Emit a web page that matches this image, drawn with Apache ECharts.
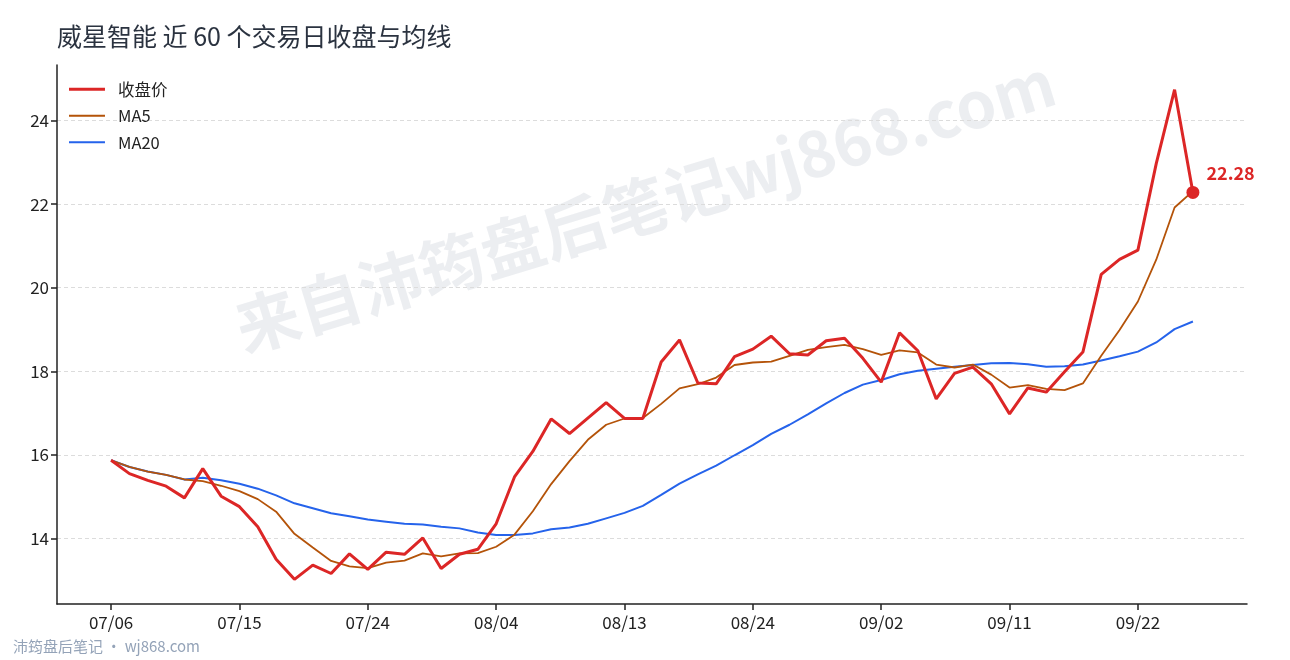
<!DOCTYPE html>
<html>
<head>
<meta charset="utf-8">
<script src="https://cdn.jsdelivr.net/npm/echarts@6/dist/echarts.min.js"></script>
<style>
  html, body { margin: 0; padding: 0; background: #fff; }
  #chart { width: 1290px; height: 660px; }
</style>
</head>
<body>
<div id="chart"></div>
<script>
// ---------- data ----------
const dates = [
  '07/06','07/07','07/08','07/09','07/10','07/13','07/14','07/15','07/16','07/17',
  '07/20','07/21','07/22','07/23','07/24','07/27','07/28','07/29','07/30','07/31',
  '08/03','08/04','08/05','08/06','08/07','08/10','08/11','08/12','08/13','08/14',
  '08/17','08/18','08/19','08/20','08/21','08/24','08/25','08/26','08/27','08/28',
  '08/31','09/01','09/02','09/03','09/04','09/07','09/08','09/09','09/10','09/11',
  '09/14','09/15','09/16','09/17','09/18','09/21','09/22','09/23','09/24','09/25'
];
const close = [
  15.87,15.55,15.39,15.25,14.97,15.67,15.01,14.76,14.28,13.50,
  13.02,13.36,13.16,13.63,13.26,13.67,13.62,14.01,13.28,13.62,
  13.74,14.35,15.47,16.08,16.86,16.51,16.88,17.25,16.87,16.87,
  18.22,18.75,17.72,17.70,18.35,18.53,18.84,18.42,18.39,18.73,
  18.79,18.31,17.74,18.92,18.49,17.34,17.95,18.10,17.70,16.98,
  17.60,17.50,17.99,18.46,20.32,20.68,20.90,22.97,24.74,22.28
];
const ma5 = [
  15.87,15.71,15.60,15.52,15.41,15.37,15.26,15.13,14.94,14.64,
  14.11,13.78,13.46,13.33,13.29,13.42,13.47,13.64,13.57,13.64,
  13.65,13.80,14.09,14.65,15.30,15.85,16.36,16.72,16.87,16.88,
  17.22,17.59,17.69,17.85,18.15,18.21,18.23,18.37,18.51,18.58,
  18.63,18.53,18.39,18.50,18.45,18.16,18.09,18.16,17.92,17.61,
  17.67,17.58,17.55,17.71,18.37,18.99,19.67,20.67,21.92,22.31
];
const ma20 = [
  15.87,15.71,15.60,15.52,15.41,15.45,15.39,15.31,15.19,15.03,
  14.84,14.72,14.60,14.53,14.45,14.40,14.35,14.33,14.28,14.24,
  14.14,14.08,14.08,14.12,14.22,14.26,14.35,14.48,14.61,14.78,
  15.04,15.31,15.53,15.74,15.99,16.23,16.50,16.72,16.97,17.23,
  17.48,17.68,17.79,17.93,18.01,18.06,18.11,18.15,18.19,18.20,
  18.17,18.11,18.12,18.16,18.26,18.36,18.47,18.69,19.01,19.19
];
const xTickIdx = [0, 7, 14, 21, 28, 35, 42, 49, 56];
const yTicks = [14, 16, 18, 20, 22, 24];

const FONT = '"Noto Sans CJK SC", "Noto Sans", sans-serif';
const C_CLOSE = '#dc2626', C_MA5 = '#b45309', C_MA20 = '#2563eb';

// legend icons: a bar of the series' width inside a 36x14 box
const thick = 'path://M0,5.5h36v3h-36z M0,0h0.01v0.01h-0.01z M0,14h0.01v0.01h-0.01z';
const thin = 'path://M0,6h36v2h-36z M0,0h0.01v0.01h-0.01z M0,14h0.01v0.01h-0.01z';

// ---------- helpers ----------
const pairs = arr => arr.map((v, i) => [i, v]);
const last = close.length - 1;

const chart = echarts.init(document.getElementById('chart'), null, { renderer: 'canvas' });

chart.setOption({
  animation: false,
  backgroundColor: '#fff',
  textStyle: { fontFamily: FONT },
  title: {
    text: '威星智能 近 60 个交易日收盘与均线',
    left: 52, top: 19,
    textStyle: { fontSize: 25, fontWeight: 'normal', color: '#2b3340', fontFamily: FONT }
  },
  legend: {
    orient: 'vertical',
    left: 64, top: 76,
    itemWidth: 36, itemHeight: 14, itemGap: 10,
    data: [
      { name: '收盘价', icon: thick, itemStyle: { color: C_CLOSE } },
      { name: 'MA5', icon: thin, itemStyle: { color: C_MA5 } },
      { name: 'MA20', icon: thin, itemStyle: { color: C_MA20 } }
    ],
    textStyle: { fontSize: 16.5, color: '#222', fontFamily: FONT, padding: [0, 0, 0, 8] }
  },
  grid: { left: 57, right: 43, top: 65, bottom: 56 },
  xAxis: {
    type: 'value',
    min: -2.95, max: 61.95,
    axisLine: { onZero: false, lineStyle: { color: '#222', width: 1.5 } },
    axisTick: { customValues: xTickIdx, length: 6, lineStyle: { color: '#222', width: 1.5 } },
    axisLabel: {
      customValues: xTickIdx,
      formatter: v => dates[v] || '',
      fontSize: 17, color: '#222', margin: 10, fontFamily: FONT
    },
    splitLine: { show: false }
  },
  yAxis: {
    type: 'value',
    min: 12.43, max: 25.33,
    axisLine: { show: true, onZero: false, lineStyle: { color: '#222', width: 1.5 } },
    axisTick: { show: true, customValues: yTicks, length: 6, lineStyle: { color: '#222', width: 1.5 } },
    axisLabel: { customValues: yTicks, fontSize: 17, color: '#222', margin: 8, fontFamily: FONT },
    splitLine: { show: true, lineStyle: { color: '#dcdcdc', type: [4, 3], width: 1 } }
  },
  graphic: [
    {
      type: 'text', z: -10, silent: true,
      x: 645, y: 205, rotation: 17 * Math.PI / 180,
      style: {
        text: '来自沛筠盘后笔记wj868.com',
        font: 'bold 64px ' + FONT,
        fill: 'rgba(100,116,139,0.12)',
        align: 'center', verticalAlign: 'middle'
      }
    },
    {
      type: 'text', silent: true,
      left: 13, top: 639,
      style: { text: '沛筠盘后笔记 · wj868.com', font: '15px ' + FONT, fill: '#94a3b8' }
    }
  ],
  series: [
    {
      name: 'MA20', type: 'line', data: pairs(ma20), symbol: 'none', z: 3,
      lineStyle: { color: C_MA20, width: 2 }, itemStyle: { color: C_MA20 }
    },
    {
      name: 'MA5', type: 'line', data: pairs(ma5), symbol: 'none', z: 4,
      lineStyle: { color: C_MA5, width: 1.8 }, itemStyle: { color: C_MA5 }
    },
    {
      name: '收盘价', type: 'line', data: pairs(close), symbol: 'none', z: 5,
      lineStyle: { color: C_CLOSE, width: 3 }, itemStyle: { color: C_CLOSE }
    },
    {
      name: 'last', type: 'scatter', z: 6,
      data: [[last, close[last]]],
      symbolSize: 13,
      itemStyle: { color: C_CLOSE, opacity: 1 },
      label: {
        show: true, position: 'right', offset: [2, -19],
        formatter: p => p.value[1].toFixed(2),
        color: C_CLOSE, fontWeight: 'bold', fontSize: 18, fontFamily: FONT
      }
    }
  ]
});
</script>
</body>
</html>
